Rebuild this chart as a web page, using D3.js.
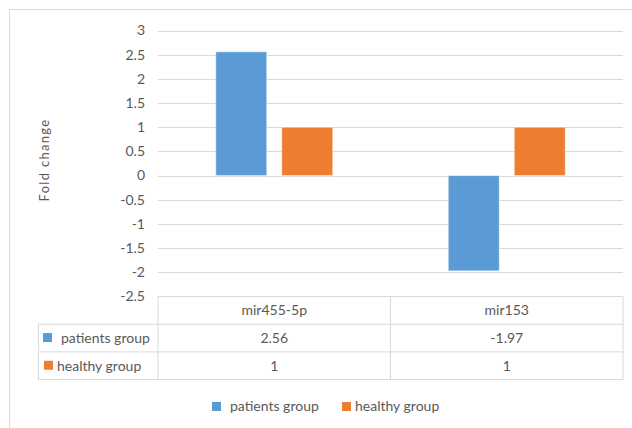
<!DOCTYPE html>
<html><head><meta charset="utf-8">
<script src="https://cdn.jsdelivr.net/npm/d3@7"></script>
<style>body{margin:0;background:#fff}svg{display:block}text{font-family:Lato,"Open Sans",sans-serif;fill:#595959}</style>
</head><body><svg id="c" width="632" height="428"></svg>
<script>
const categories = ["mir455-5p", "mir153"];
const seriesNames = ["patients group", "healthy group"];
const patients = [2.56, -1.97];
const healthy = [1, 1];
const patientsLabels = ["2.56", "-1.97"];
const healthyLabels = ["1", "1"];
const tickValues = [3, 2.5, 2, 1.5, 1, 0.5, 0, -0.5, -1, -1.5, -2, -2.5];
const colors = ["#5B9BD5", "#ED7D31"];

const svg = d3.select("#c");
const grid = "#d9d9d9";
const fs = 14;
// outer chart border (top and left visible)
svg.append("rect").attr("x",9.5).attr("y",9.5).attr("width",700).attr("height",500)
  .attr("fill","none").attr("stroke",grid);

const x0 = 158, x1 = 623;
const y = d3.scaleLinear().domain([-2.5, 3]).range([296.5, 30.5]);
const xb = d3.scaleBand().domain(categories).range([x0, x1]);
const xs = d3.scaleBand().domain(seriesNames).range([0, 117]).paddingInner(0.227);

// gridlines
svg.append("g").selectAll("line").data(tickValues.filter(v => v > -2.5)).join("line")
  .attr("x1",x0).attr("x2",x1).attr("y1",d=>Math.round(y(d))+0.5).attr("y2",d=>Math.round(y(d))+0.5)
  .attr("stroke",grid).attr("stroke-width",1);

// tick labels
svg.append("g").selectAll("text").data(tickValues).join("text")
  .attr("x",145).attr("y",d=>y(d)).attr("dy","0.35em").attr("text-anchor","end")
  .attr("font-size",fs).text(d=>d);

// axis title
svg.append("text").attr("transform","translate(49,160) rotate(-90)").attr("text-anchor","middle")
  .attr("font-size",13).attr("letter-spacing",1.3).text("Fold change");

// bars
const data = [patients, healthy];
seriesNames.forEach((s, si) => {
  svg.append("g").selectAll("rect").data(categories).join("rect")
    .attr("x", (c) => xb(c) + (xb.bandwidth() - 117)/2 + xs(s))
    .attr("width", xs.bandwidth())
    .attr("y", (c,i) => y(Math.max(0, data[si][i])))
    .attr("height", (c,i) => Math.abs(y(data[si][i]) - y(0)))
    .attr("fill", colors[si]).attr("stroke","#fff").attr("stroke-opacity",0.5);
});

// data table
const tTop = 296.5, rowH = 27.7, tLeft = 38.5;
const tg = svg.append("g").attr("stroke", grid).attr("fill","none");
tg.append("line").attr("x1",x0).attr("x2",x1).attr("y1",tTop).attr("y2",tTop);
[1,2,3].forEach(r => {
  tg.append("line").attr("x1",tLeft).attr("x2",x1).attr("y1",tTop+r*rowH).attr("y2",tTop+r*rowH);
});
tg.append("line").attr("x1",tLeft).attr("x2",tLeft).attr("y1",tTop+rowH).attr("y2",tTop+3*rowH);
[x0, x0 + xb.bandwidth(), x1].forEach(xx => {
  tg.append("line").attr("x1",xx).attr("x2",xx).attr("y1",tTop).attr("y2",tTop+3*rowH);
});
svg.append("g").selectAll("text").data(categories).join("text")
  .attr("x", c => xb(c) + xb.bandwidth()/2).attr("y", tTop + rowH/2).attr("dy","0.35em")
  .attr("text-anchor","middle").attr("font-size",fs).text(c => c);
const labels = [patientsLabels, healthyLabels];
seriesNames.forEach((s, si) => {
  const ry = tTop + (si+1)*rowH + rowH/2;
  svg.append("rect").attr("x", si===0?43:44).attr("y", ry-5).attr("width",9).attr("height",9).attr("fill",colors[si]);
  svg.append("text").attr("x", si===0?61:57).attr("y", ry).attr("dy","0.35em").attr("font-size",fs).text(s);
  svg.append("g").selectAll("text").data(categories).join("text")
    .attr("x", c => xb(c) + xb.bandwidth()/2).attr("y", ry).attr("dy","0.35em")
    .attr("text-anchor","middle").attr("font-size",fs).text((c,i) => labels[si][i]);
});

// legend
const leg = [{x:212, tx:230}, {x:342, tx:355}];
seriesNames.forEach((s, si) => {
  svg.append("rect").attr("x",leg[si].x).attr("y",402).attr("width",9).attr("height",9).attr("fill",colors[si]);
  svg.append("text").attr("x",leg[si].tx).attr("y",406.5).attr("dy","0.35em").attr("font-size",fs).text(s);
});
</script></body></html>
